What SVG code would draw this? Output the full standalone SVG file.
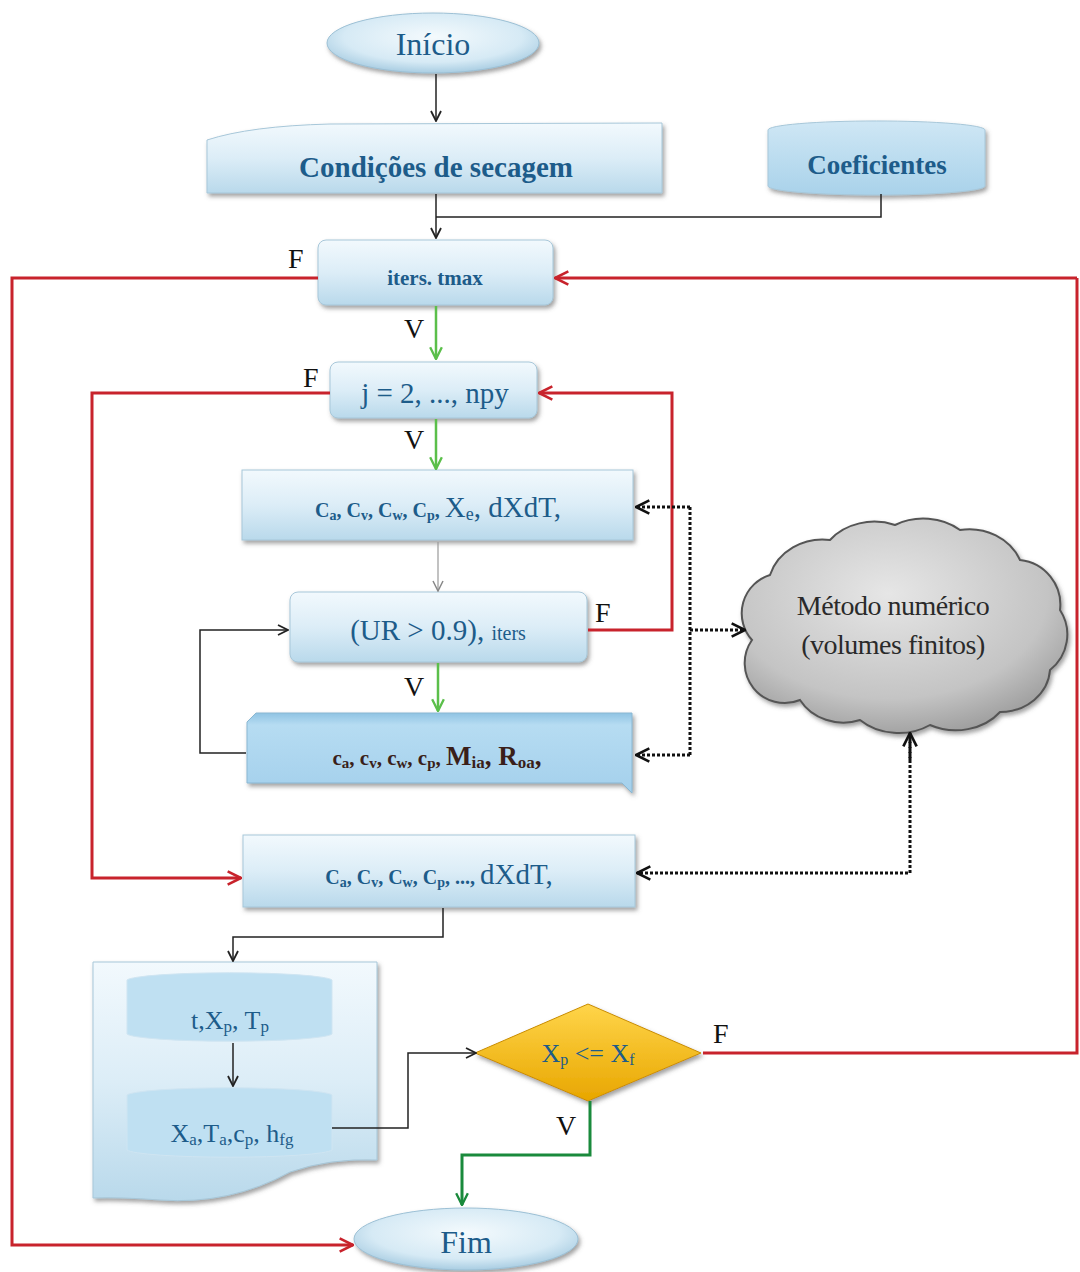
<svg xmlns="http://www.w3.org/2000/svg" width="1080" height="1272" viewBox="0 0 1080 1272">
<defs>
<linearGradient id="gB" x1="0" y1="0" x2="0" y2="1">
<stop offset="0" stop-color="#f2f9fd"/><stop offset="0.5" stop-color="#dcedf7"/><stop offset="1" stop-color="#b9d9eb"/>
</linearGradient>
<linearGradient id="gB2" x1="0" y1="0" x2="0" y2="1">
<stop offset="0" stop-color="#8fc3e3"/><stop offset="0.15" stop-color="#b6dcf2"/><stop offset="1" stop-color="#a4d0ec"/>
</linearGradient>
<radialGradient id="gE" cx="0.5" cy="0.4" r="0.6">
<stop offset="0" stop-color="#f4fafd"/><stop offset="0.7" stop-color="#d6eaf5"/><stop offset="1" stop-color="#a9cde2"/>
</radialGradient>
<linearGradient id="gY" x1="0" y1="0" x2="0" y2="1">
<stop offset="0" stop-color="#ffd54a"/><stop offset="1" stop-color="#e8a600"/>
</linearGradient>
<radialGradient id="gC" cx="0.45" cy="0.35" r="0.7">
<stop offset="0" stop-color="#e6e6e6"/><stop offset="0.7" stop-color="#c4c4c4"/><stop offset="1" stop-color="#9a9a9a"/>
</radialGradient>
<linearGradient id="gCyl" x1="0" y1="0" x2="0" y2="1">
<stop offset="0" stop-color="#cfe7f5"/><stop offset="1" stop-color="#a9d2ea"/>
</linearGradient>
<filter id="sh" x="-10%" y="-10%" width="125%" height="135%">
<feDropShadow dx="2" dy="3" stdDeviation="2" flood-color="#555" flood-opacity="0.55"/>
</filter>
<marker id="aK" viewBox="0 0 12 12" refX="11" refY="6" markerWidth="12" markerHeight="12" markerUnits="userSpaceOnUse" orient="auto"><path d="M1,1 L11,6 L1,11" fill="none" stroke="#222" stroke-width="1.8"/></marker>
<marker id="aG" viewBox="0 0 12 12" refX="11" refY="6" markerWidth="14" markerHeight="14" markerUnits="userSpaceOnUse" orient="auto"><path d="M1,1 L11,6 L1,11" fill="none" stroke="#5bbf4a" stroke-width="2"/></marker>
<marker id="aDG" viewBox="0 0 12 12" refX="11" refY="6" markerWidth="14" markerHeight="14" markerUnits="userSpaceOnUse" orient="auto"><path d="M1,1 L11,6 L1,11" fill="none" stroke="#1a8a3c" stroke-width="2"/></marker>
<marker id="aR" viewBox="0 0 12 12" refX="11" refY="6" markerWidth="16" markerHeight="16" markerUnits="userSpaceOnUse" orient="auto"><path d="M1,1 L11,6 L1,11" fill="none" stroke="#c8232c" stroke-width="2"/></marker>
<marker id="aY" viewBox="0 0 12 12" refX="11" refY="6" markerWidth="12" markerHeight="12" markerUnits="userSpaceOnUse" orient="auto"><path d="M1,1 L11,6 L1,11" fill="none" stroke="#888" stroke-width="1.5"/></marker>
<marker id="aD" viewBox="0 0 12 12" refX="11" refY="6" markerWidth="16" markerHeight="16" markerUnits="userSpaceOnUse" orient="auto"><path d="M1,1 L11,6 L1,11" fill="none" stroke="#111" stroke-width="2"/></marker>
</defs>
<style>
.box{fill:url(#gB);stroke:#a7c7d9;stroke-width:1;filter:url(#sh)}
.t{font-family:"Liberation Serif",serif;fill:#1d5c8a;text-anchor:middle}
.lab{font-family:"Liberation Serif",serif;fill:#111;font-size:28px}
.k{fill:none;stroke:#222;stroke-width:1.5}
.r{fill:none;stroke:#c8232c;stroke-width:3}
.g{fill:none;stroke:#5bbf4a;stroke-width:2.5}
.dg{fill:none;stroke:#1a8a3c;stroke-width:3}
.d{fill:none;stroke:#111;stroke-width:3;stroke-dasharray:3 2}
.sm{font-size:20px;font-weight:bold}
.sb{font-size:14px;font-weight:bold}
</style>
<rect width="1080" height="1272" fill="#fff"/>

<g id="inicio">
<ellipse cx="433" cy="43" rx="106" ry="30" fill="url(#gE)" stroke="#9cc0d5" filter="url(#sh)"/>
<text class="t" x="433" y="55" font-size="32">Início</text>
</g>

<g id="condicoes">
<path class="box" d="M207,140 Q250,126 330,124 L662,123 L662,193 L207,193 Z"/>
<text class="t" x="436" y="177" font-size="29" font-weight="bold">Condições de secagem</text>
</g>

<g id="coeficientes">
<path d="M768,130 A108,9 0 0 1 985,130 L985,186 A108,9 0 0 1 768,186 Z" fill="url(#gCyl)" stroke="#a7c7d9" filter="url(#sh)"/>
<text class="t" x="877" y="174" font-size="27" font-weight="bold">Coeficientes</text>
</g>

<g id="iters-tmax">
<rect class="box" x="318" y="240" width="235" height="65" rx="8"/>
<text class="t" x="435" y="285" font-size="21" font-weight="bold">iters. tmax</text>
</g>
<text class="lab" x="288" y="268">F</text>
<text class="lab" x="404" y="338">V</text>

<g id="j-loop">
<rect class="box" x="330" y="362" width="207" height="56" rx="8"/>
<text class="t" x="435" y="403" font-size="29">j = 2, ..., npy</text>
</g>
<text class="lab" x="303" y="387">F</text>
<text class="lab" x="404" y="449">V</text>

<g id="calc1">
<rect class="box" x="242" y="470" width="391" height="70"/>
<text class="t" x="438" y="517"><tspan class="sm">C<tspan class="sb" dy="3">a</tspan><tspan dy="-3">, C</tspan><tspan class="sb" dy="3">v</tspan><tspan dy="-3">, C</tspan><tspan class="sb" dy="3">w</tspan><tspan dy="-3">, C</tspan><tspan class="sb" dy="3">p</tspan><tspan dy="-3">, </tspan></tspan><tspan font-size="29">X</tspan><tspan font-size="18" dy="3">e</tspan><tspan font-size="29" dy="-3">, dXdT,</tspan></text>
</g>

<g id="ur-loop">
<rect class="box" x="290" y="592" width="297" height="70" rx="8"/>
<text class="t" x="438" y="640"><tspan font-size="29">(UR &gt; 0.9), </tspan><tspan font-size="20">iters</tspan></text>
</g>
<text class="lab" x="595" y="622">F</text>
<text class="lab" x="404" y="696">V</text>

<g id="calc2">
<path d="M247,722 L256,713 L632,713 L632,793 L622,783 L247,783 Z" fill="url(#gB2)" stroke="#8ab7d2" filter="url(#sh)"/>
<text x="437" y="765" font-family="Liberation Serif, serif" text-anchor="middle" fill="#3a1f1a" font-weight="bold"><tspan font-size="21">c<tspan font-size="15" dy="3">a</tspan><tspan dy="-3">, c</tspan><tspan font-size="15" dy="3">v</tspan><tspan dy="-3">, c</tspan><tspan font-size="15" dy="3">w</tspan><tspan dy="-3">, c</tspan><tspan font-size="15" dy="3">p</tspan><tspan dy="-3">, </tspan></tspan><tspan font-size="27">M</tspan><tspan font-size="17" dy="3">ia</tspan><tspan font-size="27" dy="-3">, R</tspan><tspan font-size="17" dy="3">oa</tspan><tspan font-size="27" dy="-3">,</tspan></text>
</g>

<g id="metodo">
<path d="M752,640 A40,40 0 0 1 770,575 A55,50 0 0 1 830,540 A55,45 0 0 1 895,525 A55,45 0 0 1 960,530 A55,50 0 0 1 1020,560 A45,45 0 0 1 1060,610 A45,45 0 0 1 1050,670 A50,45 0 0 1 1000,712 A55,45 0 0 1 930,725 A55,45 0 0 1 860,720 A50,45 0 0 1 800,700 A40,40 0 0 1 752,640 Z" fill="url(#gC)" stroke="#555" stroke-width="2" filter="url(#sh)"/>
<text x="893" y="615" font-family="Liberation Serif, serif" font-size="28" text-anchor="middle" fill="#2a2a2a" letter-spacing="-0.5">Método numérico</text>
<text x="893" y="654" font-family="Liberation Serif, serif" font-size="28" text-anchor="middle" fill="#2a2a2a" letter-spacing="-0.5">(volumes  finitos)</text>
</g>

<g id="calc3">
<rect class="box" x="243" y="835" width="392" height="72"/>
<text class="t" x="439" y="884"><tspan class="sm">C<tspan class="sb" dy="3">a</tspan><tspan dy="-3">, C</tspan><tspan class="sb" dy="3">v</tspan><tspan dy="-3">, C</tspan><tspan class="sb" dy="3">w</tspan><tspan dy="-3">, C</tspan><tspan class="sb" dy="3">p</tspan><tspan dy="-3">, ...,  </tspan></tspan><tspan font-size="29">dXdT,</tspan></text>
</g>

<g id="saida">
<path class="box" d="M93,962 L377,962 L377,1160 Q330,1158 290,1172 Q230,1205 160,1200 Q120,1197 93,1198 Z"/>
<path d="M127,980 A103,8 0 0 1 332,980 L332,1034 A103,8 0 0 1 127,1034 Z" fill="#bfe0f2" stroke="#cfe5f2"/>
<text class="t" x="230" y="1029"><tspan font-size="26">t,X</tspan><tspan font-size="17" dy="3">p</tspan><tspan font-size="26" dy="-3">, T</tspan><tspan font-size="17" dy="3">p</tspan></text>
<path d="M127,1095 A103,8 0 0 1 332,1095 L332,1150 A103,8 0 0 1 127,1150 Z" fill="#bfe0f2" stroke="#cfe5f2"/>
<text class="t" x="232" y="1142"><tspan font-size="26">X</tspan><tspan font-size="17" dy="3">a</tspan><tspan font-size="26" dy="-3">,T</tspan><tspan font-size="17" dy="3">a</tspan><tspan font-size="26" dy="-3">,c</tspan><tspan font-size="17" dy="3">p</tspan><tspan font-size="26" dy="-3">, h</tspan><tspan font-size="17" dy="3">fg</tspan></text>
</g>

<g id="decisao">
<path d="M588,1004 L701,1053 L588,1101 L475,1053 Z" fill="url(#gY)" stroke="#c98d00" filter="url(#sh)"/>
<text class="t" x="588" y="1062"><tspan font-size="26">X</tspan><tspan font-size="16" dy="3">p</tspan><tspan font-size="26" dy="-3"> &lt;= X</tspan><tspan font-size="16" dy="3">f</tspan></text>
</g>
<text class="lab" x="713" y="1043">F</text>
<text class="lab" x="556" y="1135">V</text>

<g id="fim">
<ellipse cx="466" cy="1239" rx="112" ry="31" fill="url(#gE)" stroke="#9cc0d5" filter="url(#sh)"/>
<text class="t" x="466" y="1253" font-size="32">Fim</text>
</g>

<g id="connectors">
<path class="k" d="M436,74 L436,121" marker-end="url(#aK)"/>
<path class="k" d="M436,194 L436,238" marker-end="url(#aK)"/>
<path class="k" d="M881,194 L881,217 L436,217"/>
<path class="r" d="M318,278 L12,278 L12,1245 L353,1245" marker-end="url(#aR)"/>
<path class="r" d="M1077,278 L555,278" marker-end="url(#aR)"/>
<path class="r" d="M1077,278 L1077,1053 L703,1053"/>
<path class="g" d="M436,306 L436,359" marker-end="url(#aG)"/>
<path class="r" d="M330,393 L92,393 L92,878 L241,878" marker-end="url(#aR)"/>
<path class="r" d="M588,630 L672,630 L672,393 L539,393" marker-end="url(#aR)"/>
<path class="g" d="M436,419 L436,469" marker-end="url(#aG)"/>
<path d="M438,542 L438,591" fill="none" stroke="#999" stroke-width="1.2" marker-end="url(#aY)"/>
<path class="g" d="M438,663 L438,711" marker-end="url(#aG)"/>
<path class="k" d="M246,753 L200,753 L200,630 L288,630" marker-end="url(#aK)"/>
<path class="d" d="M690,507 L690,755"/>
<path class="d" d="M690,507 L636,507" marker-end="url(#aD)"/>
<path class="d" d="M690,755 L636,755" marker-end="url(#aD)"/>
<path class="d" d="M690,630 L745,630" marker-end="url(#aD)"/>
<path class="d" d="M910,735 L910,873 L637,873" marker-end="url(#aD)"/>
<path class="d" d="M910,760 L910,733" marker-end="url(#aD)"/>
<path class="k" d="M443,908 L443,937 L233,937 L233,961" marker-end="url(#aK)"/>
<path class="k" d="M233,1043 L233,1086" marker-end="url(#aK)"/>
<path class="k" d="M332,1128 L408,1128 L408,1053 L476,1053" marker-end="url(#aK)"/>
<path class="dg" d="M590,1101 L590,1155 L462,1155 L462,1205" marker-end="url(#aDG)"/>
</g>
</svg>
